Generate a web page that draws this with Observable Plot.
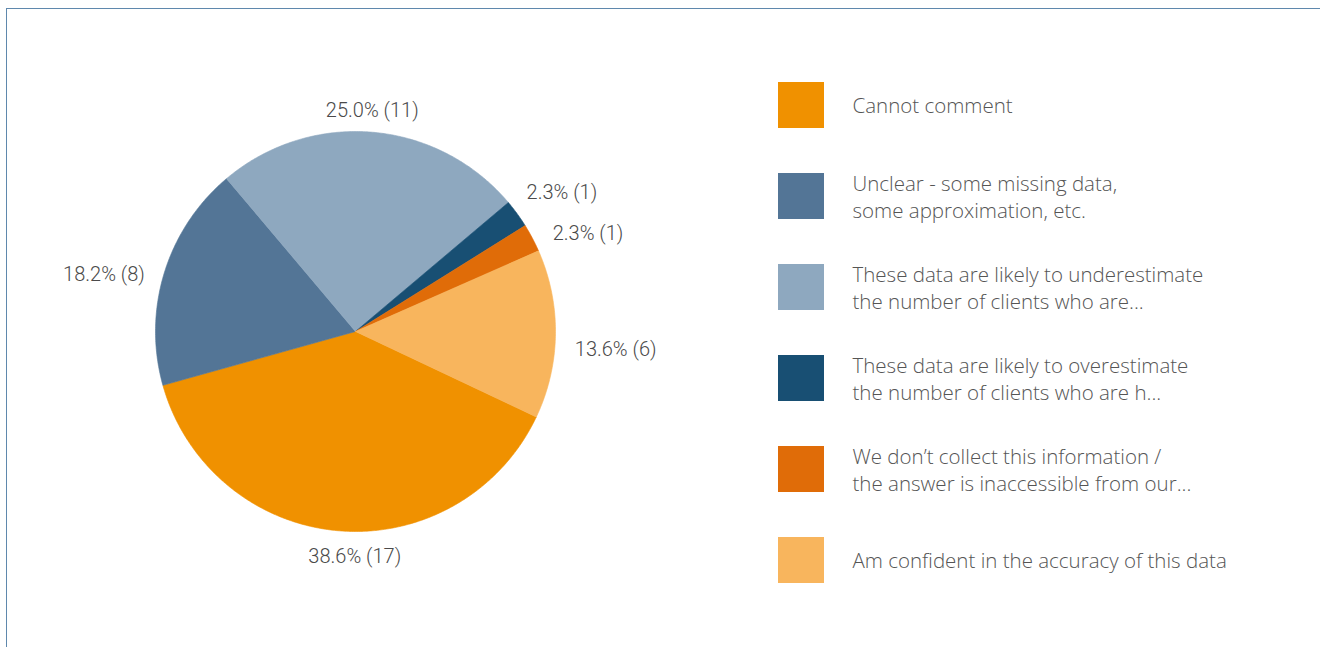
<!DOCTYPE html>
<html>
<head>
<meta charset="utf-8">
<script src="https://cdn.jsdelivr.net/npm/d3@7"></script>
<script src="https://cdn.jsdelivr.net/npm/@observablehq/plot@0.6"></script>
<style>
  html, body { margin: 0; padding: 0; background: #fff; overflow: hidden; }
  #wrap { position: relative; width: 1320px; height: 647px; }
  #frame { position: absolute; left: 6px; top: 8px; width: 1400px; height: 700px; border: 1.5px solid #5f88ad; box-sizing: border-box; }
  #chart { position: absolute; left: 0; top: 0; }
</style>
</head>
<body>
<div id="wrap"><div id="frame"></div><div id="chart"></div></div>
<script>
// ---- data ----
const categories = [
  "Cannot comment",
  "Unclear - some missing data,\nsome approximation, etc.",
  "These data are likely to underestimate\nthe number of clients who are...",
  "These data are likely to overestimate\nthe number of clients who are h...",
  "We don\u2019t collect this information /\nthe answer is inaccessible from our...",
  "Am confident in the accuracy of this data"
];
const counts = [17, 8, 11, 1, 1, 6];
const colors = ["#f09100", "#537596", "#8ea8bf", "#184f73", "#e06c08", "#f8b55d"];

// ---- layout ----
const W = 1320, H = 647;
const cx = 355, cy = 331, R = 200;
const startDeg = 115.3;
const total = d3.sum(counts);
const d = R + 22;

const slices = [];
const labels = [];
let acc = startDeg;
counts.forEach((c, i) => {
  const span = c / total * 360;
  const a0 = acc, a1 = acc + span;
  const steps = Math.max(4, Math.ceil(span / 0.5));
  slices.push({i, x: cx, y: cy});
  for (let k = 0; k <= steps; k++) {
    const a = (a0 + (a1 - a0) * k / steps) * Math.PI / 180;
    slices.push({i, x: cx + R * Math.sin(a), y: cy - R * Math.cos(a)});
  }
  slices.push({i, x: cx, y: cy});
  const am = (a0 + a1) / 2 * Math.PI / 180;
  const s = Math.sin(am), co = Math.cos(am);
  const side = s > 0.2 ? 1 : s < -0.2 ? -1 : 0;
  labels.push({
    i, s, co, side,
    text: `${(c / total * 100).toFixed(1)}% (${c})`,
    y: cy - d * co + 15 * Math.pow(1 - Math.abs(co), 1.5) + (co < -0.9 ? 4 : 0),
    anchor: side > 0 ? "start" : side < 0 ? "end" : "middle"
  });
  acc = a1;
});
// collision avoidance per side: push upper label up
[1, -1].forEach(side => {
  const g = labels.filter(l => l.side === side).sort((a, b) => b.y - a.y);
  for (let k = 1; k < g.length; k++) {
    if (g[k - 1].y - g[k].y < 41) g[k].y = g[k - 1].y - 41;
  }
});
labels.forEach(l => {
  if (l.side === 0) {
    l.x = cx + d * l.s + (l.co < 0 ? 18 : -2);
  } else {
    const dy = l.y - cy;
    l.x = cx + l.side * Math.sqrt(Math.max(0, d * d - dy * dy)) + (l.side > 0 ? -2 : 4);
  }
});

const legend = categories.map((name, i) => ({
  name, i,
  x1: 778, x2: 824,
  y1: 82 + i * 91, y2: 128 + i * 91,
  tx: 852, ty: 104 + i * 91
}));

const labelStyle = {
  x: "x", y: "y", text: "text",
  fontFamily: "Roboto", fontWeight: 300, fontSize: 20, fill: "#4a4a4a"
};

const chart = Plot.plot({
  width: W, height: H,
  margin: 0,
  x: {domain: [0, W], range: [0, W], axis: null},
  y: {domain: [0, H], range: [0, H], axis: null},
  style: {background: "transparent", overflow: "visible"},
  marks: [
    Plot.line(slices, {
      x: "x", y: "y", z: "i",
      fill: d => colors[d.i],
      stroke: d => colors[d.i],
      strokeWidth: 0.6,
      curve: "linear"
    }),
    Plot.text(labels.filter(d => d.anchor === "start"), {...labelStyle, textAnchor: "start"}),
    Plot.text(labels.filter(d => d.anchor === "end"), {...labelStyle, textAnchor: "end"}),
    Plot.text(labels.filter(d => d.anchor === "middle"), {...labelStyle, textAnchor: "middle"}),
    Plot.rect(legend, {
      x1: "x1", x2: "x2", y1: "y1", y2: "y2",
      fill: d => colors[d.i]
    }),
    Plot.text(legend, {
      x: "tx", y: "ty", text: "name",
      textAnchor: "start", lineHeight: 1.33,
      fontFamily: "Open Sans", fontWeight: 300, fontSize: 20.5, fill: "#555"
    })
  ]
});
document.getElementById("chart").append(chart);
</script>
</body>
</html>
